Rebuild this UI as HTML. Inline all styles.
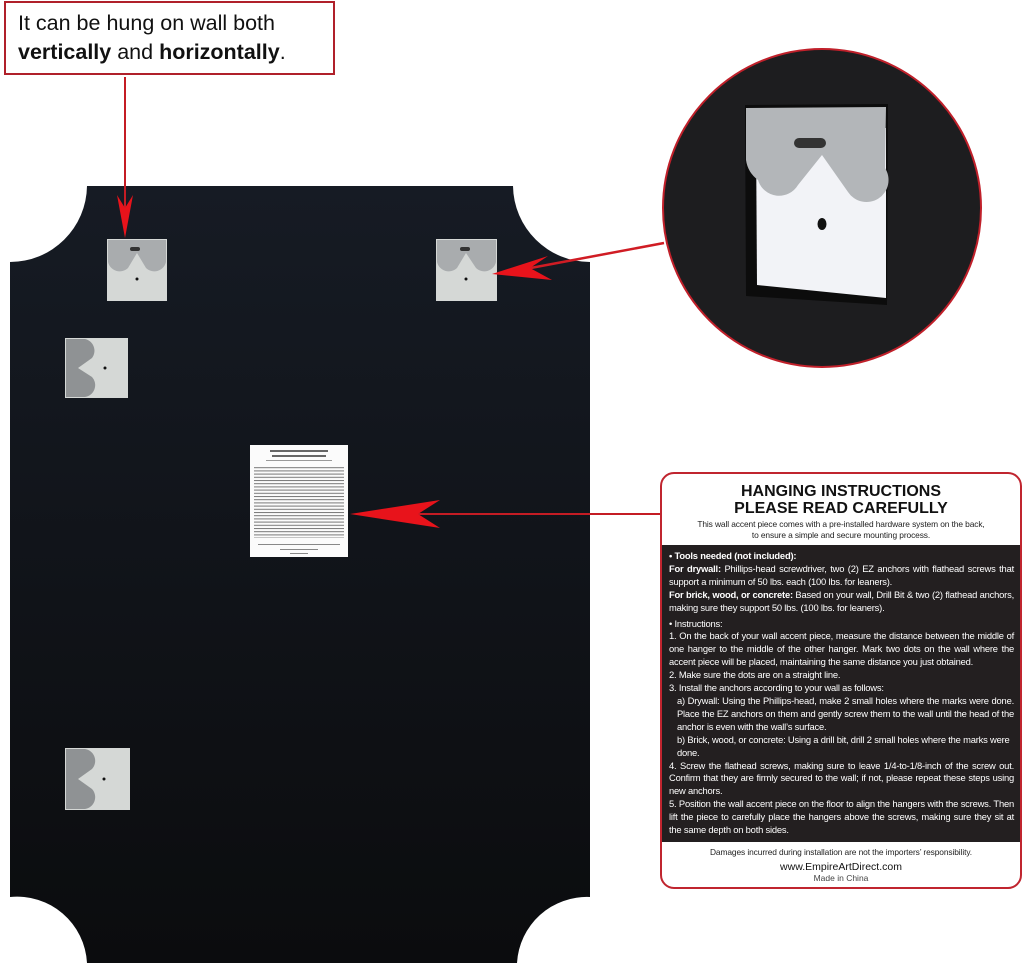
<!DOCTYPE html>
<html><head><meta charset="utf-8"><style>
body{margin:0;width:1024px;height:963px;background:#fff;position:relative;overflow:hidden;font-family:"Liberation Sans",sans-serif}
.cap{position:absolute;left:4px;top:1px;width:331px;height:74px;border:2px solid #b0202a;box-sizing:border-box;background:#fff}
.cap div{position:absolute;left:12px;top:6px;font-size:21.5px;line-height:29px;color:#111;white-space:nowrap}
.ins{position:absolute;left:660px;top:472px;width:362px;height:417px;border:2px solid #c0252f;border-radius:14px;box-sizing:border-box;background:#fff;overflow:hidden;font-family:"Liberation Sans",sans-serif}
.h{text-align:center;font-weight:bold;font-size:16px;line-height:17px;margin-top:9px;color:#111}
.sub{text-align:center;font-size:8.4px;line-height:11px;color:#222;margin-top:2px;letter-spacing:-0.1px}
.dark{background:#231f20;color:#fff;margin-top:4px;height:297px;box-sizing:border-box;padding:5px 6px 3px 7px;font-size:9.4px;line-height:12.9px;letter-spacing:-0.2px;text-align:justify}
.dark p{margin:0}
.ind{padding-left:8px}
.ft{text-align:center;font-size:8.4px;color:#222;margin-top:5px;letter-spacing:-0.1px}
.w{text-align:center;font-size:10.5px;color:#111;margin-top:4px}
.mc{text-align:center;font-size:8.5px;color:#444;margin-top:0}
</style></head><body>
<svg width="1024" height="963" style="position:absolute;left:0;top:0">
<defs><linearGradient id="pg" x1="0" y1="0" x2="0" y2="1"><stop offset="0" stop-color="#161b24"/><stop offset="1" stop-color="#0b0c0e"/></linearGradient>
<pattern id="tx" width="90" height="3.2" patternUnits="userSpaceOnUse"><rect width="90" height="1" fill="#777"/></pattern></defs>
<path d="M87 186 L513 186 A77 77 0 0 0 590 262 L590 897 A70 70 0 0 0 517 963 L87 963 A70 70 0 0 0 10 897 L10 262 A77 77 0 0 0 87 186 Z" fill="url(#pg)"/>
<g>
<rect x="107" y="239" width="60" height="62" fill="#d5d8d6"/>
<path d="M108 240 H166 V262 A12 12 0 0 1 146 268 L137 253 L128 268 A12 12 0 0 1 108 262 Z" fill="#a9acae"/>
<rect x="130" y="247" width="10" height="4" rx="2" fill="#333"/><circle cx="137" cy="279" r="1.5" fill="#111"/>
<rect x="436" y="239" width="61" height="62" fill="#d5d8d6"/>
<path d="M437 240 H496 V262 A12 12 0 0 1 476 268 L466 253 L457 268 A12 12 0 0 1 437 262 Z" fill="#a9acae"/>
<rect x="460" y="247" width="10" height="4" rx="2" fill="#333"/><circle cx="466" cy="279" r="1.5" fill="#111"/>
<rect x="65" y="338" width="63" height="60" fill="#d5d8d6"/>
<path d="M66 339 V397 H85 A12 12 0 0 0 92 377 L78 368 L92 358 A12 12 0 0 0 85 339 Z" fill="#8f9294"/>
<circle cx="105" cy="368" r="1.5" fill="#111"/>
<rect x="65" y="748" width="65" height="62" fill="#d5d8d6"/>
<path d="M66 749 V809 H85 A12 12 0 0 0 92 789 L78 779 L92 769 A12 12 0 0 0 85 749 Z" fill="#8f9294"/>
<circle cx="104" cy="779" r="1.5" fill="#111"/>
</g>
<rect x="250" y="445" width="98" height="112" fill="#fbfbfb"/>
<rect x="270" y="450" width="58" height="2" fill="#666"/><rect x="272" y="455" width="54" height="2" fill="#666"/>
<rect x="266" y="460" width="66" height="1" fill="#999"/>
<rect x="254" y="466" width="90" height="72" fill="url(#tx)"/>
<rect x="258" y="544" width="82" height="1" fill="#888"/><rect x="280" y="549" width="38" height="1" fill="#888"/><rect x="290" y="553" width="18" height="1" fill="#888"/>
<circle cx="822" cy="208" r="159" fill="#1d1d1f" stroke="#c0202a" stroke-width="2"/>
<path d="M745 105 L888 104 L887 305 L746 296 Z" fill="#0c0c0c"/>
<path d="M756 130 L886 128 L886 298 L757 285 Z" fill="#f2f3f7"/>
<path d="M746 108 L886 107 L885 168 A22 22 0 0 1 848 192 L822 155 L798 185 A22 22 0 0 1 758 180 A30 30 0 0 1 746 160 Z" fill="#b3b6b9"/>
<rect x="794" y="138" width="32" height="10" rx="5" fill="#333"/>
<ellipse cx="822" cy="224" rx="4.5" ry="6" fill="#111"/>
<line x1="125" y1="77" x2="125" y2="215" stroke="#c41c24" stroke-width="2"/>
<path d="M117 195 L125 238 L133 195 L125 208 Z" fill="#e8131b"/>
<line x1="664" y1="243" x2="520" y2="270" stroke="#d01c24" stroke-width="2.5"/>
<path d="M492 274 L548 256 L530 268 L552 280 Z" fill="#e8131b"/>
<line x1="660" y1="514" x2="400" y2="514" stroke="#c41c24" stroke-width="2"/>
<path d="M350 514 L440 500 L418 514 L440 528 Z" fill="#e8131b"/>
</svg>
<div class="cap"><div>It can be hung on wall both<br><b>vertically</b> and <b>horizontally</b>.</div></div>
<div class="ins">
<div class="h">HANGING INSTRUCTIONS<br>PLEASE READ CAREFULLY</div>
<div class="sub">This wall accent piece comes with a pre-installed hardware system on the back,<br>to ensure a simple and secure mounting process.</div>
<div class="dark">
<p><b>• Tools needed (not included):</b></p>
<p><b>For drywall:</b> Phillips-head screwdriver, two (2) EZ anchors with flathead screws that support a minimum of 50 lbs. each (100 lbs. for leaners).</p>
<p><b>For brick, wood, or concrete:</b> Based on your wall, Drill Bit &amp; two (2) flathead anchors, making sure they support 50 lbs. (100 lbs. for leaners).</p>
<p style="margin-top:3px">• Instructions:</p>
<p>1. On the back of your wall accent piece, measure the distance between the middle of one hanger to the middle of the other hanger. Mark two dots on the wall where the accent piece will be placed, maintaining the same distance you just obtained.</p>
<p>2. Make sure the dots are on a straight line.</p>
<p>3. Install the anchors according to your wall as follows:</p>
<p class="ind">a) Drywall: Using the Phillips-head, make 2 small holes where the marks were done. Place the EZ anchors on them and gently screw them to the wall until the head of the anchor is even with the wall’s surface.</p>
<p class="ind" style="text-align:left">b) Brick, wood, or concrete: Using a drill bit, drill 2 small holes where the marks were done.</p>
<p>4. Screw the flathead screws, making sure to leave 1/4-to-1/8-inch of the screw out. Confirm that they are firmly secured to the wall; if not, please repeat these steps using new anchors.</p>
<p>5. Position the wall accent piece on the floor to align the hangers with the screws. Then lift the piece to carefully place the hangers above the screws, making sure they sit at the same depth on both sides.</p>
</div>
<div class="ft">Damages incurred during installation are not the importers’ responsibility.</div>
<div class="w">www.EmpireArtDirect.com</div>
<div class="mc">Made in China</div>
</div>
</body></html>
